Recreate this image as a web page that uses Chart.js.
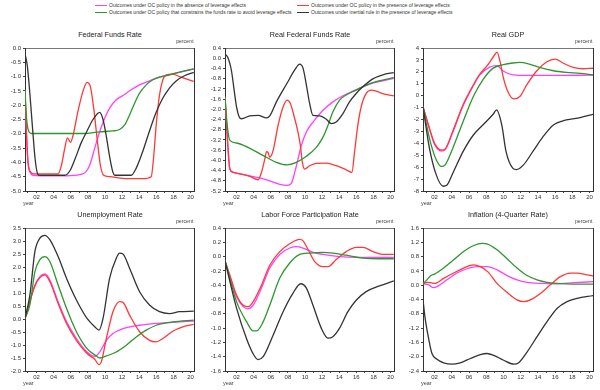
<!DOCTYPE html>
<html><head><meta charset="utf-8">
<script src="https://cdn.jsdelivr.net/npm/chart.js@4.4.1/dist/chart.umd.min.js"></script>
<style>
html,body{margin:0;padding:0;background:#fff;}
#wrap{position:relative;width:600px;height:390px;overflow:hidden;font-family:"Liberation Sans",Arial,sans-serif;color:#333;}
canvas{position:absolute;left:0;top:0;}
.t{position:absolute;white-space:nowrap;line-height:1;}
.sw{position:absolute;height:1px;width:12px;}
</style></head><body><div id="wrap"></div>
<script>
// ---------- data (years, values) ----------
const seriesNames = [
  "Outcomes under OC policy in the absence of leverage effects",
  "Outcomes under OC policy in the presence of leverage effects",
  "Outcomes under OC policy that constrains the funds rate to avoid leverage effects",
  "Outcomes under inertial rule in the presence of leverage effects"
];
const panelTitles = ["Federal Funds Rate","Real Federal Funds Rate","Real GDP","Unemployment Rate","Labor Force Participation Rate","Inflation (4-Quarter Rate)"];
const xTickYears = [2001,2002,2003,2004,2005,2006,2007,2008,2009,2010,2011,2012,2013,2014,2015,2016,2017,2018,2019,2020];

// Federal Funds Rate
const ffrMagenta = [[2000.65,-1.5],[2000.91,-3.63],[2001.22,-4.33],[2001.61,-4.45],[2003.55,-4.47],[2005.5,-4.47],[2007.05,-4.43],[2007.75,-4.33],[2008.21,-4.1],[2008.8,-3.5],[2009.38,-2.93],[2009.96,-2.46],[2010.54,-2.1],[2011.32,-1.81],[2012.1,-1.66],[2013.07,-1.46],[2014.04,-1.29],[2015.2,-1.15],[2016.37,-1.02],[2017.53,-0.94],[2018.7,-0.85],[2020.37,-0.73]];
const ffrRed = [[2000.65,-1.55],[2000.83,-3.0],[2001.03,-4.1],[2001.3,-4.33],[2001.61,-4.4],[2003.55,-4.4],[2004.52,-4.4],[2004.91,-4.1],[2005.3,-3.5],[2005.61,-3.14],[2005.96,-3.3],[2006.27,-3.05],[2006.85,-2.2],[2007.44,-1.5],[2007.9,-1.2],[2008.29,-1.35],[2008.68,-2.1],[2009.07,-3.15],[2009.46,-4.1],[2009.84,-4.45],[2010.54,-4.5],[2012.49,-4.57],[2014.43,-4.57],[2015.4,-4.5],[2015.67,-3.86],[2015.98,-2.7],[2016.37,-1.64],[2016.76,-1.11],[2017.15,-0.94],[2017.92,-0.91],[2018.7,-1.0],[2019.48,-1.08],[2020.37,-1.17]];
const ffrGreen = [[2000.65,-1.46],[2000.83,-2.46],[2001.11,-2.93],[2001.42,-2.99],[2003.55,-2.99],[2007.44,-2.99],[2009.38,-2.93],[2010.93,-2.9],[2011.71,-2.85],[2012.29,-2.69],[2012.87,-2.34],[2013.46,-1.93],[2014.04,-1.58],[2014.82,-1.29],[2015.59,-1.11],[2016.37,-1.02],[2017.53,-0.94],[2018.7,-0.84],[2020.37,-0.73]];
const ffrBlack = [[2000.65,-0.2],[2000.91,-0.6],[2001.22,-1.6],[2001.53,-2.8],[2001.84,-3.9],[2002.12,-4.4],[2002.31,-4.45],[2005.3,-4.45],[2005.88,-4.3],[2006.47,-3.9],[2007.24,-3.3],[2007.9,-2.9],[2008.6,-2.5],[2009.38,-2.25],[2009.77,-2.5],[2010.16,-3.1],[2010.54,-3.8],[2010.93,-4.35],[2011.13,-4.45],[2013.07,-4.45],[2013.65,-4.2],[2014.43,-3.6],[2015.2,-2.9],[2015.98,-2.25],[2016.76,-1.75],[2017.53,-1.4],[2018.31,-1.15],[2019.28,-0.97],[2020.37,-0.85]];
const ffrTicks = [-5.0,-4.5,-4.0,-3.5,-3.0,-2.5,-2.0,-1.5,-1.0,-0.5,0.0];

// Real Federal Funds Rate
const rffrMagenta = [[2000.65,-1.51],[2000.91,-3.03],[2001.22,-4.34],[2001.61,-4.47],[2003.55,-4.61],[2005.5,-4.76],[2007.05,-4.94],[2007.9,-4.98],[2008.41,-4.9],[2008.8,-4.47],[2009.18,-3.95],[2009.57,-3.42],[2010.16,-2.89],[2010.93,-2.5],[2012.1,-2.04],[2013.26,-1.71],[2014.43,-1.47],[2015.59,-1.29],[2016.76,-1.12],[2017.92,-0.98],[2019.09,-0.89],[2020.37,-0.79]];
const rffrRed = [[2000.65,-1.51],[2000.91,-3.03],[2001.22,-4.34],[2001.61,-4.47],[2003.55,-4.63],[2004.52,-4.76],[2004.91,-4.47],[2005.3,-3.95],[2005.5,-3.66],[2005.69,-3.7],[2005.88,-3.88],[2006.27,-3.62],[2006.85,-2.63],[2007.44,-1.91],[2007.9,-1.64],[2008.29,-1.77],[2008.8,-2.37],[2009.18,-2.89],[2009.46,-3.42],[2009.69,-4.08],[2009.96,-4.34],[2010.54,-4.21],[2011.32,-4.12],[2012.49,-4.11],[2013.65,-4.21],[2014.82,-4.37],[2015.48,-4.47],[2015.79,-3.68],[2016.17,-2.63],[2016.56,-1.91],[2017.15,-1.38],[2017.73,-1.25],[2018.31,-1.29],[2019.28,-1.41],[2020.37,-1.47]];
const rffrGreen = [[2000.65,-1.51],[2000.91,-2.63],[2001.22,-3.22],[2002.0,-3.32],[2003.55,-3.53],[2005.5,-3.88],[2006.66,-4.08],[2007.9,-4.18],[2008.99,-4.08],[2010.16,-3.84],[2011.32,-3.49],[2012.1,-3.09],[2012.68,-2.63],[2013.26,-2.1],[2014.04,-1.64],[2014.82,-1.44],[2015.98,-1.25],[2017.15,-1.05],[2018.31,-0.92],[2019.48,-0.83],[2020.37,-0.76]];
const rffrBlack = [[2000.65,0.16],[2000.91,0.07],[2001.15,-0.13],[2001.42,-0.52],[2001.69,-1.18],[2002.0,-1.91],[2002.31,-2.3],[2002.58,-2.37],[2003.55,-2.26],[2004.52,-2.24],[2005.5,-2.34],[2005.88,-2.26],[2006.66,-1.71],[2007.9,-0.98],[2008.8,-0.46],[2009.38,-0.23],[2009.77,-0.39],[2010.16,-1.05],[2010.54,-1.77],[2010.93,-2.24],[2011.71,-2.26],[2012.49,-2.39],[2013.07,-2.56],[2013.65,-2.5],[2014.43,-2.17],[2015.2,-1.71],[2015.98,-1.38],[2016.76,-1.12],[2017.92,-0.81],[2019.09,-0.65],[2020.37,-0.56]];
const rffrTicks = [-5.2,-4.8,-4.4,-4.0,-3.6,-3.2,-2.8,-2.4,-2.0,-1.6,-1.2,-0.8,-0.4,0.0,0.4];

// Real GDP
const gdpMagenta = [[2000.65,-0.92],[2001.4,-2.8],[2002.0,-4.1],[2002.8,-4.65],[2003.2,-4.55],[2004.1,-3.1],[2005.3,-0.85],[2006.5,0.85],[2007.2,1.7],[2008.4,2.4],[2009.2,2.52],[2010.0,2.05],[2011.1,1.75],[2013.0,1.7],[2016.0,1.7],[2020.4,1.72]];
const gdpRed = [[2000.65,-0.92],[2001.4,-2.74],[2002.0,-4.0],[2002.8,-4.57],[2003.2,-4.49],[2004.1,-3.0],[2005.3,-0.78],[2006.5,0.9],[2007.2,1.75],[2008.2,2.6],[2008.9,3.35],[2009.25,3.66],[2009.6,2.87],[2010.0,1.47],[2010.5,0.35],[2011.2,-0.27],[2011.9,-0.07],[2012.7,0.9],[2013.8,2.03],[2015.0,2.82],[2016.0,3.07],[2016.9,2.74],[2018.1,2.37],[2019.2,2.26],[2020.4,2.3]];
const gdpGreen = [[2000.65,-0.92],[2001.4,-3.58],[2002.2,-5.4],[2002.8,-5.94],[2003.2,-5.83],[2004.1,-4.43],[2005.3,-2.18],[2006.5,-0.07],[2007.6,1.33],[2008.8,2.31],[2010.0,2.6],[2011.1,2.74],[2011.9,2.79],[2013.0,2.65],[2014.2,2.37],[2015.8,2.09],[2017.3,1.95],[2018.9,1.87],[2020.4,1.75]];
const gdpBlack = [[2000.65,-0.92],[2001.4,-4.43],[2002.2,-6.67],[2003.0,-7.6],[2003.4,-7.52],[2004.1,-6.53],[2005.3,-4.7],[2006.5,-3.3],[2007.6,-2.46],[2008.8,-1.56],[2009.2,-1.2],[2009.8,-2.46],[2010.3,-4.7],[2011.1,-6.1],[2011.5,-6.2],[2012.3,-5.83],[2013.4,-4.7],[2014.6,-3.44],[2015.8,-2.46],[2017.3,-2.04],[2018.9,-1.84],[2020.4,-1.56]];
const gdpTicks = [-8,-7,-6,-5,-4,-3,-2,-1,0,1,2,3,4];

// Unemployment Rate
const urMagenta = [[2000.65,0.02],[2001.81,1.31],[2002.39,1.63],[2002.97,1.73],[2003.55,1.5],[2004.52,0.66],[2005.5,-0.1],[2006.66,-0.75],[2007.9,-1.27],[2008.8,-1.44],[2009.38,-1.27],[2010.16,-0.82],[2010.93,-0.56],[2012.1,-0.37],[2014.04,-0.24],[2015.98,-0.17],[2017.92,-0.13],[2020.37,-0.08]];
const urRed = [[2000.65,0.02],[2001.81,1.27],[2002.39,1.59],[2002.97,1.7],[2003.55,1.44],[2004.52,0.6],[2005.5,-0.17],[2006.66,-0.82],[2007.9,-1.33],[2008.8,-1.55],[2009.3,-1.76],[2009.57,-1.65],[2010.16,-0.75],[2010.93,0.28],[2011.71,0.67],[2012.1,0.64],[2012.87,0.15],[2014.04,-0.49],[2015.2,-0.82],[2015.98,-0.88],[2016.76,-0.75],[2017.92,-0.47],[2019.09,-0.3],[2020.37,-0.21]];
const urGreen = [[2000.65,0.02],[2001.22,0.54],[2001.81,1.82],[2002.39,2.28],[2002.97,2.4],[2003.55,2.21],[2004.52,1.31],[2005.5,0.41],[2006.66,-0.49],[2007.9,-1.14],[2008.99,-1.42],[2009.38,-1.5],[2010.16,-1.42],[2011.32,-1.27],[2012.49,-1.01],[2013.65,-0.69],[2014.82,-0.43],[2015.98,-0.24],[2017.92,-0.11],[2020.37,-0.04]];
const urBlack = [[2000.65,0.02],[2001.22,0.92],[2001.81,2.6],[2002.39,3.11],[2002.97,3.22],[2003.55,3.05],[2004.52,2.4],[2005.5,1.57],[2006.66,0.73],[2007.9,0.02],[2008.8,-0.3],[2009.3,-0.43],[2009.77,0.02],[2010.54,1.57],[2011.32,2.34],[2011.71,2.53],[2012.1,2.5],[2012.87,1.95],[2014.04,1.05],[2015.2,0.54],[2016.37,0.28],[2017.53,0.21],[2018.7,0.28],[2020.37,0.3]];
const urTicks = [-2.0,-1.5,-1.0,-0.5,0.0,0.5,1.0,1.5,2.0,2.5,3.0,3.5];

// Labor Force Participation Rate
const lfpMagenta = [[2000.65,-0.06],[2002.0,-0.56],[2002.78,-0.7],[2003.36,-0.73],[2003.94,-0.68],[2004.91,-0.44],[2005.88,-0.16],[2007.05,0.03],[2008.21,0.12],[2009.0,0.14],[2009.77,0.12],[2010.93,0.06],[2012.1,0.03],[2014.04,0.0],[2015.98,-0.01],[2020.37,-0.01]];
const lfpRed = [[2000.65,-0.06],[2001.22,-0.26],[2002.0,-0.54],[2002.78,-0.68],[2003.36,-0.7],[2003.94,-0.63],[2004.91,-0.4],[2005.88,-0.12],[2007.05,0.07],[2008.21,0.18],[2009.38,0.24],[2009.77,0.22],[2010.35,0.1],[2011.13,-0.07],[2012.1,-0.14],[2012.68,-0.14],[2013.65,-0.04],[2014.82,0.07],[2015.98,0.13],[2016.76,0.13],[2017.92,0.07],[2019.09,0.03],[2020.37,0.03]];
const lfpGreen = [[2000.65,-0.06],[2002.0,-0.63],[2003.17,-0.91],[2003.94,-1.04],[2004.33,-1.04],[2004.91,-0.96],[2005.88,-0.68],[2007.05,-0.3],[2008.21,-0.09],[2009.38,0.03],[2010.54,0.05],[2012.1,0.06],[2013.26,0.05],[2014.82,0.02],[2016.76,-0.02],[2018.7,-0.03],[2020.37,-0.03]];
const lfpBlack = [[2000.65,-0.06],[2002.0,-0.72],[2003.17,-1.15],[2003.94,-1.36],[2004.52,-1.44],[2005.11,-1.4],[2006.27,-1.1],[2007.44,-0.77],[2008.6,-0.51],[2009.5,-0.38],[2010.16,-0.44],[2010.93,-0.68],[2011.9,-1.0],[2012.68,-1.14],[2013.26,-1.12],[2014.04,-1.0],[2015.01,-0.77],[2015.98,-0.61],[2017.15,-0.49],[2018.7,-0.41],[2020.37,-0.34]];
const lfpTicks = [-1.6,-1.4,-1.2,-1.0,-0.8,-0.6,-0.4,-0.2,0.0,0.2,0.4];

// Inflation (4-Quarter Rate)
const infMagenta = [[2000.65,0.04],[2001.3,0.01],[2001.88,-0.07],[2002.47,-0.01],[2003.43,0.15],[2004.6,0.34],[2005.76,0.46],[2006.92,0.52],[2008.09,0.52],[2009.25,0.43],[2010.41,0.27],[2011.57,0.15],[2012.74,0.08],[2014.29,0.05],[2016.22,0.04],[2018.16,0.07],[2020.41,0.1]];
const infRed = [[2000.65,0.04],[2001.11,0.08],[2001.57,0.07],[2002.0,0.05],[2003.05,0.19],[2004.21,0.34],[2005.37,0.48],[2006.53,0.57],[2007.31,0.52],[2008.16,0.38],[2009.25,0.05],[2010.41,-0.2],[2011.57,-0.41],[2012.35,-0.46],[2013.12,-0.41],[2014.29,-0.23],[2015.45,0.01],[2016.61,0.24],[2017.78,0.34],[2018.55,0.34],[2019.71,0.29],[2020.41,0.26]];
const infGreen = [[2000.65,0.04],[2001.11,0.15],[2001.57,0.27],[2002.0,0.31],[2003.05,0.48],[2004.21,0.71],[2005.37,0.94],[2006.53,1.11],[2007.58,1.17],[2008.16,1.15],[2009.25,0.99],[2010.41,0.74],[2011.57,0.48],[2012.74,0.27],[2013.9,0.15],[2015.06,0.08],[2016.22,0.05],[2018.16,0.03],[2020.41,0.03]];
const infBlack = [[2000.65,-0.41],[2000.9,-0.93],[2001.3,-1.49],[2001.69,-1.91],[2002.27,-2.07],[2003.05,-2.17],[2004.02,-2.21],[2004.98,-2.17],[2006.15,-2.05],[2007.31,-1.94],[2008.09,-1.91],[2008.86,-1.96],[2010.02,-2.1],[2011.19,-2.21],[2011.77,-2.17],[2012.74,-1.87],[2013.9,-1.44],[2015.06,-1.02],[2016.22,-0.65],[2017.39,-0.46],[2018.55,-0.37],[2020.41,-0.29]];
const infTicks = [-2.4,-2.0,-1.6,-1.2,-0.8,-0.4,0.0,0.4,0.8,1.2,1.6];

// ---------- layout & style ----------
const FONT = '"Liberation Sans", Arial, sans-serif';
const COLORS = ['#ff40ff', '#ff3838', '#2e962e', '#333333'];
const X_MIN = 2000.65, X_MAX = 2020.4;
const AXW = 25, XH = 14;
const cols = [[25,194],[225,394],[423,593]];
const rows = [[48,191],[228,371]];
const panelDefs = [
  {series:[ffrMagenta,ffrRed,ffrGreen,ffrBlack], ticks:ffrTicks, dec:1},
  {series:[rffrMagenta,rffrRed,rffrGreen,rffrBlack], ticks:rffrTicks, dec:1},
  {series:[gdpMagenta,gdpRed,gdpGreen,gdpBlack], ticks:gdpTicks, dec:0},
  {series:[urMagenta,urRed,urGreen,urBlack], ticks:urTicks, dec:1},
  {series:[lfpMagenta,lfpRed,lfpGreen,lfpBlack], ticks:lfpTicks, dec:1},
  {series:[infMagenta,infRed,infGreen,infBlack], ticks:infTicks, dec:1}
];

const wrap = document.getElementById('wrap');
function addText(txt, x, y, size, align, color, sx){
  const d = document.createElement('div');
  d.className = 't';
  d.textContent = txt;
  d.style.fontSize = size + 'px';
  d.style.top = y + 'px';
  d.style.color = color || '#333';
  const sc = sx ? ' scaleX(' + sx + ')' : '';
  if (align === 'center') { d.style.left = x + 'px'; d.style.transform = 'translate(-50%,-50%)' + sc; }
  else if (align === 'right') { d.style.right = (600 - x) + 'px'; d.style.transform = 'translateY(-50%)' + sc; d.style.transformOrigin = 'right center'; }
  else { d.style.left = x + 'px'; d.style.transform = 'translateY(-50%)' + sc; d.style.transformOrigin = 'left center'; }
  wrap.appendChild(d);
  return d;
}
function zeroPad(s){ s.paddingLeft = 0; s.paddingRight = 0; s.paddingTop = 0; s.paddingBottom = 0; }

// legend
const legPos = [[95,5],[297,5],[95,12],[297,12]];
seriesNames.forEach((n,i)=>{
  const [lx,ly] = legPos[i];
  const sw = document.createElement('div');
  sw.className = 'sw';
  sw.style.left = lx + 'px'; sw.style.top = ly + 'px'; sw.style.background = COLORS[i];
  wrap.appendChild(sw);
  addText(n, lx + 13.5, ly + 0.5, 5.6, 'left', '#333', 0.9);
});

panelDefs.forEach((p, idx)=>{
  const [L,R] = cols[idx % 3];
  const [T,B] = rows[Math.floor(idx / 3)];
  addText(panelTitles[idx], (L + R) / 2, T - 13.5, 8, 'center', '#222', 0.9);
  addText('percent', R - 1, T - 6, 5.5, 'right', '#444', 0.95);
  addText('year', L - 2, B + 13, 5.5, 'left', '#444');

  const c = document.createElement('canvas');
  c.width = 600; c.height = 390;
  c.style.width = '600px'; c.style.height = '390px';
  wrap.appendChild(c);
  const yt = p.ticks;
  new Chart(c, {
    type: 'line',
    data: { datasets: p.series.map((s,i)=>({
      label: seriesNames[i],
      data: s.map(([x,y])=>({x, y})),
      borderColor: COLORS[i], backgroundColor: COLORS[i],
      borderWidth: 1.3, pointRadius: 0, fill: false,
      cubicInterpolationMode: 'monotone', order: 4 - i
    })) },
    options: {
      responsive: false, animation: false, devicePixelRatio: 1, events: [],
      layout: { autoPadding: false, padding: { left: L - AXW, right: 600 - R, top: T, bottom: 390 - B - XH } },
      plugins: { legend: { display: false }, tooltip: { enabled: false }, title: { display: false } },
      scales: {
        x: {
          type: 'linear', position: 'bottom', min: X_MIN, max: X_MAX,
          afterBuildTicks: s => { s.ticks = xTickYears.map(v => ({ value: v })); },
          afterFit: s => { s.height = XH; zeroPad(s); },
          ticks: { autoSkip: false, maxRotation: 0, minRotation: 0, padding: 1, color: '#333',
            font: { size: 6, family: FONT }, callback: v => (v % 2 === 0 ? String(v).slice(2) : '') },
          grid: { drawOnChartArea: false, tickLength: 2, color: '#444' },
          border: { color: '#333', width: 1 }
        },
        xT: {
          type: 'linear', position: 'top', min: 0, max: 1,
          ticks: { display: false }, grid: { display: false },
          border: { display: true, color: '#777', width: 1, dash: [1, 1] },
          afterFit: s => { s.height = 0; zeroPad(s); }
        },
        y: {
          type: 'linear', position: 'left', min: yt[0], max: yt[yt.length - 1],
          afterBuildTicks: s => { s.ticks = yt.map(v => ({ value: v })); },
          afterFit: s => { s.width = AXW; zeroPad(s); },
          ticks: { autoSkip: false, padding: 2, color: '#333', font: { size: 6, family: FONT },
            callback: v => Number(v).toFixed(p.dec) },
          grid: { drawOnChartArea: false, tickLength: 2, color: '#444' },
          border: { color: '#333', width: 1 }
        },
        yR: {
          type: 'linear', position: 'right', min: 0, max: 1,
          ticks: { display: false }, grid: { display: false },
          border: { display: true, color: '#333', width: 1 },
          afterFit: s => { s.width = 0; zeroPad(s); }
        }
      }
    }
  });
});
</script></body></html>
